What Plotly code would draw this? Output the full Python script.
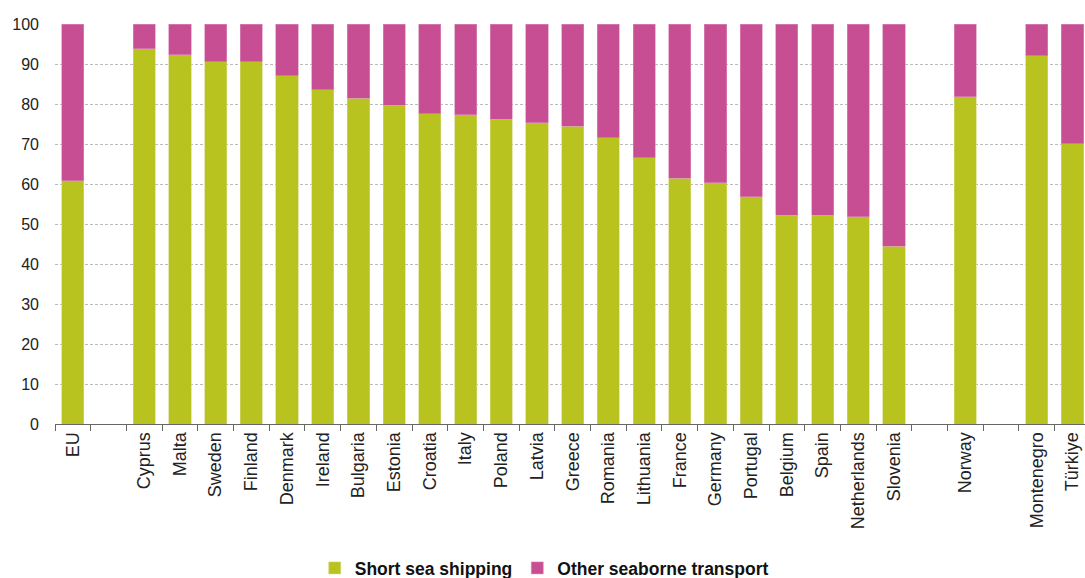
import plotly.graph_objects as go

categories = ["EU", " ", "Cyprus", "Malta", "Sweden", "Finland", "Denmark", "Ireland",
              "Bulgaria", "Estonia", "Croatia", "Italy", "Poland", "Latvia", "Greece",
              "Romania", "Lithuania", "France", "Germany", "Portugal", "Belgium", "Spain",
              "Netherlands", "Slovenia", "  ", "Norway", "   ", "Montenegro", "Türkiye"]

short_sea = [60.8, None, 93.8, 92.3, 90.6, 90.6, 87.1, 83.6, 81.5, 79.7, 77.6, 77.3,
             76.2, 75.3, 74.4, 71.6, 66.6, 61.5, 60.3, 56.8, 52.2, 52.2, 51.8, 44.5,
             None, 81.8, None, 92.1, 70.1]

other_seaborne = [None if v is None else round(100 - v, 1) for v in short_sea]

series_names = ["Short sea shipping", "Other seaborne transport"]
GREEN = "#B9C31F"
PINK = "#C84E94"

fig = go.Figure()
fig.add_trace(go.Bar(x=categories, y=short_sea, name=series_names[0],
                     marker=dict(color=GREEN, line=dict(color="#D4DA7A", width=0.6))))
fig.add_trace(go.Bar(x=categories, y=other_seaborne, name=series_names[1],
                     marker=dict(color=PINK, line=dict(color="#DC8DBA", width=0.6))))

fig.update_layout(
    barmode="stack",
    bargap=0.38,
    width=1085, height=578,
    margin=dict(l=55, r=0, t=24, b=154, autoexpand=False),
    plot_bgcolor="white", paper_bgcolor="white",
    font=dict(family="Liberation Sans, Arial, sans-serif", color="#222222"),
    showlegend=True,
    legend=dict(orientation="h", x=0.475, xanchor="center", y=-0.36, yanchor="middle",
                font=dict(family="Liberation Sans, Arial, sans-serif",
                          size=17.5, color="#111111", weight="bold"),
                itemwidth=30, traceorder="normal", tracegroupgap=0),
)
fig.update_xaxes(
    type="category", categoryorder="array", categoryarray=categories,
    range=[-0.5, 28.35],
    tickangle=-90, tickfont=dict(size=18, color="#222222"),
    showline=True, linecolor="#666666", linewidth=1,
    ticks="outside", tickson="boundaries", ticklen=6, tickcolor="#666666",
    showgrid=False, automargin=False,
)
fig.update_yaxes(
    range=[0, 100], dtick=10, tickfont=dict(size=16, color="#222222"),
    showgrid=True, gridcolor="#BBBBBB", griddash="3px,2px", gridwidth=1,
    zeroline=False, showline=False, ticklabelstandoff=15, automargin=False,
)

fig.write_html("out.html", config={"displayModeBar": False},
               post_script="document.body.style.margin='0';document.body.style.overflow='hidden';")
